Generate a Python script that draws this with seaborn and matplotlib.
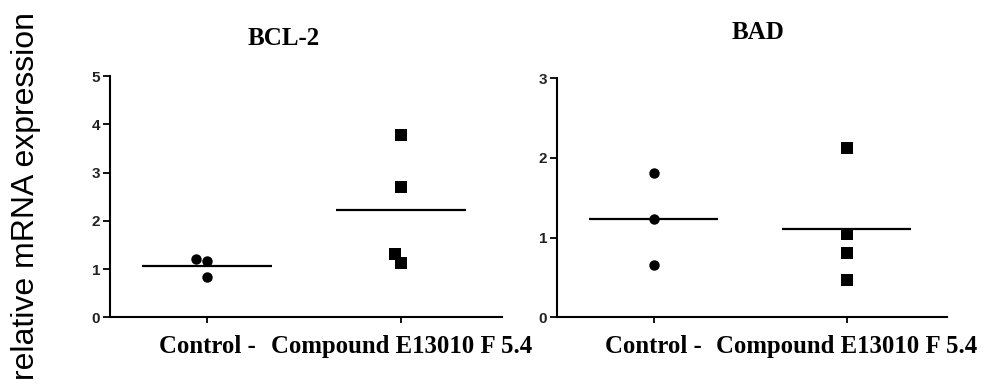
import pandas as pd
import matplotlib.pyplot as plt
import seaborn as sns

# Values
groups = ["Control -", "Compound E13010 F 5.4"]
bcl2_control = [1.21, 1.16, 0.83]
bcl2_compound = [3.78, 2.69, 1.32, 1.12]
bad_control = [1.81, 1.23, 0.66]
bad_compound = [2.12, 1.05, 0.81, 0.47]
panel_titles = ["BCL-2", "BAD"]
y_tops = [5, 3]


def make_df(control, compound):
    return pd.DataFrame({
        "group": [groups[0]] * len(control) + [groups[1]] * len(compound),
        "value": control + compound,
    })


data = [make_df(bcl2_control, bcl2_compound), make_df(bad_control, bad_compound)]

sns.set_style("ticks")
plt.rcParams["text.color"] = "black"
fig = plt.figure(figsize=(9.86, 3.89), dpi=100)
axes = [
    fig.add_axes([0.1116, 0.1843, 0.3976, 0.6203]),
    fig.add_axes([0.5649, 0.1843, 0.3955, 0.6144]),
]
title_pos = [(0.288, 0.90), (0.769, 0.916)]

for ax, df, title, top, tpos in zip(axes, data, panel_titles, y_tops, title_pos):
    # mean line only
    sns.boxplot(data=df, x="group", y="value", order=groups, ax=ax,
                width=0.67, showmeans=True, meanline=True, showfliers=False,
                meanprops={"color": "black", "linestyle": "-", "linewidth": 1.6},
                boxprops={"visible": False}, whiskerprops={"visible": False},
                capprops={"visible": False}, medianprops={"visible": False})
    # individual points
    sns.swarmplot(data=df[df.group == groups[0]], x="group", y="value",
                  order=groups, ax=ax, color="black", marker="o", size=7.5)
    sns.swarmplot(data=df[df.group == groups[1]], x="group", y="value",
                  order=groups, ax=ax, color="black", marker="s", size=8)

    ax.set_xlim(-0.5, 1.52)
    ax.set_ylim(0, top)
    ax.set_yticks(range(top + 1))
    ax.set_xlabel("")
    ax.set_ylabel("")
    sns.despine(ax=ax)
    for s in ["left", "bottom"]:
        ax.spines[s].set_linewidth(1.5)
        ax.spines[s].set_color("black")
    ax.tick_params(axis="y", length=5, width=1.3, pad=2, colors="black",
                   labelcolor="#222222")
    ax.tick_params(axis="x", length=4, width=1.3, pad=9, colors="black")
    for lbl in ax.get_yticklabels():
        lbl.set_fontfamily("Liberation Sans")
        lbl.set_fontweight("bold")
        lbl.set_fontsize(11)
    for lbl in ax.get_xticklabels():
        lbl.set_fontfamily("Liberation Serif")
        lbl.set_fontweight("bold")
        lbl.set_fontsize(17.8)
    fig.text(tpos[0], tpos[1], title, ha="center", va="center", color="black",
             family="Liberation Serif", weight="bold", fontsize=18)

fig.text(0.026, 0.496, "relative mRNA expression", rotation=90, color="black",
         ha="center", va="center", family="Liberation Sans", fontsize=23)

plt.savefig("out.png", dpi=100)
